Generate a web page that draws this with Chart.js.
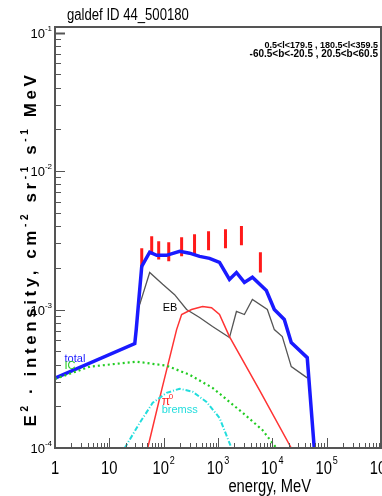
<!DOCTYPE html>
<html><head><meta charset="utf-8">
<script src="https://cdn.jsdelivr.net/npm/chart.js@4/dist/chart.umd.min.js"></script>
<style>html,body{margin:0;padding:0;background:#fff}#wrap{width:382px;height:496px;position:relative}</style>
</head><body><div id="wrap"><canvas id="c"></canvas></div>
<script>
// ---- text ----
const titleText = 'galdef ID 44_500180';
const regionLines = ['0.5<l<179.5 , 180.5<l<359.5', '-60.5<b<-20.5 , 20.5<b<60.5'];
const xTitle = 'energy, MeV';
const yTitleParts = [['E',0],['2',1],[' · intensity, cm',0],['-2',1],[' sr',0],['-1',1],[' s',0],['-1',1],[' MeV',0]];
// ---- tick labels ----
const xTickValues = [1, 10, 100, 1000, 10000, 100000, 1000000];
const xTickBase = ['1', '10', '10', '10', '10', '10', '10'];
const xTickExp = ['', '', '2', '3', '4', '5', '6'];
const yTickValues = [1e-4, 1e-3, 1e-2, 1e-1];
const yTickBase = ['10', '10', '10', '10'];
const yTickExp = ['-4', '-3', '-2', '-1'];
// ---- series (energy MeV, E^2 intensity) ----
const totalE = [1, 29.4, 31.3, 39.5, 55.3, 74.4, 113, 197, 300, 458, 698, 1066, 1625, 2185, 3060, 4295, 7760, 10880, 16600, 22300, 43900, 59000];
const totalI = [3.2e-4, 5.67e-4, 7.2e-4, 2.05e-3, 2.59e-3, 2.46e-3, 2.46e-3, 2.63e-3, 2.55e-3, 2.42e-3, 2.34e-3, 2.19e-3, 1.65e-3, 1.85e-3, 1.57e-3, 1.71e-3, 1.37e-3, 1.0e-3, 8.47e-4, 5.77e-4, 4.49e-4, 1.0e-4];
const ebE = [36.3, 55.3, 95.9, 159, 264, 458, 793, 1625, 2185, 3060, 4295, 8090, 10880, 15250, 22300, 43900];
const ebI = [1.09e-3, 1.85e-3, 1.52e-3, 1.28e-3, 1.0e-3, 8.75e-4, 7.53e-4, 6.27e-4, 9.68e-4, 9.2e-4, 1.18e-3, 1.0e-3, 7.16e-4, 6.37e-4, 3.87e-4, 3.21e-4];
const pi0E = [50.9, 91.9, 173, 214, 326, 520, 760, 1066, 1625, 5770, 22300];
const pi0I = [1.0e-4, 2.63e-4, 7.16e-4, 9.2e-4, 1.0e-3, 1.05e-3, 1.03e-3, 9.2e-4, 6.37e-4, 2.63e-4, 1.0e-4];
const icE = [1, 4.39, 32, 113, 300, 793, 2820, 6560, 11840];
const icI = [3.15e-4, 3.87e-4, 4.2e-4, 3.93e-4, 3.38e-4, 2.72e-4, 1.8e-4, 1.35e-4, 1.0e-4];
const bremE = [19.2, 36.3, 62.8, 113, 197, 341, 615, 1066, 1770];
const bremI = [1.0e-4, 1.52e-4, 2.12e-4, 2.5e-4, 2.68e-4, 2.55e-4, 2.15e-4, 1.65e-4, 1.0e-4];
const dataE = [39.5, 60.2, 81, 124, 214, 370, 670, 1373, 2700, 6030];
const dataLo = [2.01e-3, 2.50e-3, 2.30e-3, 2.23e-3, 2.42e-3, 2.50e-3, 2.68e-3, 2.77e-3, 2.91e-3, 1.85e-3];
const dataHi = [2.77e-3, 3.38e-3, 3.11e-3, 3.06e-3, 3.33e-3, 3.49e-3, 3.67e-3, 3.80e-3, 4.0e-3, 2.59e-3];
// ---- curve labels: text, energy, intensity ----
const curveLabels = [
  ['total', 1.5, 4.2e-4, '#1a1aff'],
  ['IC', 1.5, 3.73e-4, '#22cc22'],
  ['EB', 96, 9.7e-4, '#000000'],
  ['bremss', 92, 1.78e-4, '#22dddd']
];

const pts = (xs, ys) => xs.map((x, i) => ({x, y: ys[i]}));
const errPts = [];
dataE.forEach((e, i) => { errPts.push({x: e, y: dataLo[i]}, {x: e, y: dataHi[i]}, {x: e, y: null}); });

const SANS = "'Liberation Sans', Arial, sans-serif";
const NARROW_K = 0.82;
function narrowText(ctx, txt, x, y, align) {
  const w = ctx.measureText(txt).width * NARROW_K;
  let x0 = x;
  if (align === 'right') x0 = x - w; else if (align === 'center') x0 = x - w / 2;
  ctx.save(); ctx.textAlign = 'left'; ctx.translate(x0, y); ctx.scale(NARROW_K, 1);
  ctx.fillText(txt, 0, 0); ctx.restore();
  return w;
}

const decor = {
  id: 'decor',
  afterDatasetsDraw(chart) {
    const ctx = chart.ctx, a = chart.chartArea, xs = chart.scales.x, ys = chart.scales.y;
    ctx.save();
    ctx.setLineDash([]);
    // ticks inside
    ctx.strokeStyle = '#555'; ctx.lineWidth = 1;
    for (let d = 0; d < 6; d++) for (let m = 1; m <= 9; m++) {
      const v = m * Math.pow(10, d); const px = Math.round(xs.getPixelForValue(v)) + 0.5;
      const len = m === 1 ? 10 : 5;
      ctx.beginPath(); ctx.moveTo(px, a.bottom); ctx.lineTo(px, a.bottom - len); ctx.stroke();
    }
    for (let d = -4; d < -1; d++) for (let m = 1; m <= 9; m++) {
      const v = m * Math.pow(10, d); const py = Math.round(ys.getPixelForValue(v)) + 0.5;
      const len = m === 1 ? 10 : 6;
      ctx.beginPath(); ctx.moveTo(a.left, py); ctx.lineTo(a.left + len, py); ctx.stroke();
    }
    { const py = Math.round(ys.getPixelForValue(0.1)) + 0.5;
      ctx.lineWidth = 2; ctx.beginPath(); ctx.moveTo(a.left, py); ctx.lineTo(a.left + 10, py); ctx.stroke(); }
    // frame
    ctx.strokeStyle = '#555'; ctx.lineWidth = 2;
    ctx.strokeRect(a.left, a.top, a.right - a.left, a.bottom - a.top);
    // x tick labels
    ctx.fillStyle = '#000'; ctx.textBaseline = 'alphabetic';
    xTickValues.forEach((v, i) => {
      const px = xs.getPixelForValue(v);
      ctx.font = '18px ' + SANS;
      const wb = ctx.measureText(xTickBase[i]).width * NARROW_K;
      ctx.font = '11px ' + SANS;
      const we = xTickExp[i] ? ctx.measureText(xTickExp[i]).width * NARROW_K + 1 : 0;
      const x0 = px - (wb + we) / 2;
      ctx.font = '18px ' + SANS;
      narrowText(ctx, xTickBase[i], x0, a.bottom + 26, 'left');
      if (xTickExp[i]) { ctx.font = '11px ' + SANS; narrowText(ctx, xTickExp[i], x0 + wb + 1, a.bottom + 16, 'left'); }
    });
    // y tick labels
    yTickValues.forEach((v, i) => {
      const py = ys.getPixelForValue(v);
      ctx.font = '8px ' + SANS; ctx.textAlign = 'right';
      const we = ctx.measureText(yTickExp[i]).width;
      ctx.fillText(yTickExp[i], a.left - 3, py - 2);
      ctx.font = '13px ' + SANS;
      ctx.fillText(yTickBase[i], a.left - 3 - we, py + 5);
    });
    // axis titles
    ctx.font = '18px ' + SANS;
    narrowText(ctx, xTitle, 311, 492, 'right');
    ctx.save();
    ctx.translate(36, 249); ctx.rotate(-Math.PI / 2);
    const mainF = 'bold 17px ' + SANS, supF = 'bold 10px ' + SANS;
    ctx.letterSpacing = '3.6px';
    let total = 0;
    yTitleParts.forEach(([t, s]) => { ctx.font = s ? supF : mainF; total += ctx.measureText(t).width; });
    let cx = -total / 2; ctx.textAlign = 'left';
    yTitleParts.forEach(([t, s]) => { ctx.font = s ? supF : mainF; ctx.fillText(t, cx, s ? -8 : 0); cx += ctx.measureText(t).width; });
    ctx.restore();
    ctx.letterSpacing = '0px';
    // title
    ctx.font = '16px ' + SANS;
    narrowText(ctx, titleText, 67, 20, 'left');
    // region text
    ctx.textAlign = 'right';
    ctx.font = 'bold 9px ' + SANS;
    ctx.fillText(regionLines[0], 378, 48);
    ctx.font = 'bold 10px ' + SANS;
    ctx.fillText(regionLines[1], 378, 57);
    // curve labels
    ctx.textAlign = 'left';
    curveLabels.forEach(([t, e, v, c]) => {
      ctx.font = '11px ' + SANS; ctx.fillStyle = c;
      ctx.fillText(t, xs.getPixelForValue(e), ys.getPixelForValue(v));
    });
    // pi0 label
    { const px = xs.getPixelForValue(92), py = ys.getPixelForValue(2.05e-4);
      ctx.fillStyle = '#ff2222'; ctx.font = '12px ' + SANS; ctx.fillText('π', px, py);
      ctx.font = '8px ' + SANS; ctx.fillText('0', px + 7, py - 6); }
    ctx.restore();
  }
};

new Chart(document.getElementById('c'), {
  type: 'line',
  data: {
    datasets: [
      {label: 'IC', data: pts(icE, icI), borderColor: '#22cc22', borderWidth: 2.2, borderDash: [2, 3]},
      {label: 'bremss', data: pts(bremE, bremI), borderColor: '#22dddd', borderWidth: 2, borderDash: [5, 2, 1, 2]},
      {label: 'pi0', data: pts(pi0E, pi0I), borderColor: '#ff3333', borderWidth: 1.5},
      {label: 'EB', data: pts(ebE, ebI), borderColor: '#555555', borderWidth: 1.3},
      {label: 'total', data: pts(totalE, totalI), borderColor: '#1a1aff', borderWidth: 3.5},
      {label: 'data', data: errPts, borderColor: '#ff1a1a', borderWidth: 3, spanGaps: false}
    ]
  },
  options: {
    responsive: true, maintainAspectRatio: false, animation: false,
    layout: {padding: {left: 55, right: 1, top: 27, bottom: 48}},
    elements: {point: {radius: 0}, line: {tension: 0}},
    plugins: {legend: {display: false}, tooltip: {enabled: false}},
    scales: {
      x: {type: 'logarithmic', min: 1, max: 1e6, ticks: {display: false}, grid: {display: false, drawTicks: false}, border: {display: false}},
      y: {type: 'logarithmic', min: 1e-4, max: 0.1096, ticks: {display: false}, grid: {display: false, drawTicks: false}, border: {display: false}}
    }
  },
  plugins: [decor]
});
</script></body></html>
